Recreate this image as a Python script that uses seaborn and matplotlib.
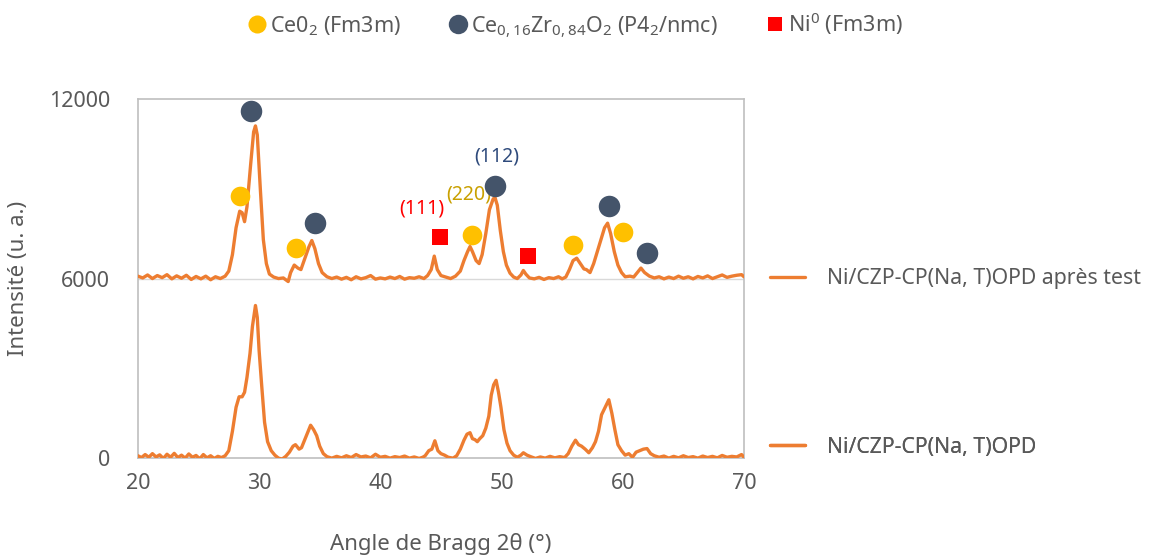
import matplotlib
matplotlib.use("Agg")  # headless mode (no GUI)

import matplotlib.pyplot as plt
import pandas as pd
import seaborn as sns

# --- data (2theta in degrees, intensity in counts) ---
two_theta_after = [
    20.0, 20.4, 20.8, 21.2, 21.6, 22.0, 22.4, 22.8, 23.2, 23.6, 24.0, 24.4, 24.8, 25.2, 25.6, 26.0,
    26.4, 26.8, 27.2, 27.5, 27.8, 28.1, 28.4, 28.6, 28.8, 29.0, 29.3, 29.55, 29.7, 29.85, 30.1,
    30.35, 30.6, 30.85, 31.2, 31.6, 32.0, 32.4, 32.6, 32.9, 33.2, 33.45, 33.8, 34.1, 34.35, 34.6,
    34.9, 35.2, 35.6, 36.0, 36.4, 36.8, 37.2, 37.6, 38.0, 38.4, 38.8, 39.2, 39.6, 40.0, 40.4,
    40.8, 41.2, 41.6, 42.0, 42.4, 42.8, 43.2, 43.6, 43.9, 44.2, 44.45, 44.7, 45.0, 45.4, 45.8,
    46.2, 46.6, 46.9, 47.2, 47.4, 47.6, 47.9, 48.15, 48.4, 48.7, 49.0, 49.3, 49.45, 49.65, 49.9,
    50.15, 50.4, 50.7, 51.0, 51.3, 51.6, 51.8, 52.0, 52.3, 52.7, 53.1, 53.5, 53.9, 54.3, 54.7,
    55.0, 55.3, 55.6, 55.9, 56.2, 56.5, 56.8, 57.0, 57.3, 57.6, 57.9, 58.2, 58.5, 58.75, 59.0,
    59.3, 59.6, 59.9, 60.2, 60.6, 60.9, 61.2, 61.5, 61.8, 62.2, 62.6, 63.0, 63.4, 63.8, 64.2,
    64.6, 65.0, 65.4, 65.8, 66.2, 66.6, 67.0, 67.4, 67.8, 68.2, 68.6, 69.0, 69.4, 69.8, 70.0,
]
intensity_after = [
    6080, 6020, 6120, 6000, 6100, 6030, 6130, 5990, 6090, 6010, 6110, 5970, 6070, 5990, 6080, 5960,
    6060, 6000, 6080, 6250, 6800, 7700, 8250, 8200, 7900, 8400, 9800, 10900, 11100, 10800, 9000,
    7300, 6500, 6150, 6050, 6000, 6020, 5900, 6200, 6450, 6350, 6300, 6700, 7050, 7270, 7000,
    6500, 6200, 6060, 6000, 6050, 5980, 6040, 5960, 6060, 5990, 6030, 6100, 5980, 6020, 5990,
    6050, 6000, 6070, 5980, 6030, 6010, 6060, 6000, 6100, 6300, 6750, 6300, 6100, 6050, 6000,
    6080, 6250, 6600, 6900, 7070, 6900, 6600, 6500, 6800, 7500, 8300, 8650, 8720, 8450, 7600,
    6900, 6450, 6180, 6050, 6000, 6120, 6270, 6150, 6020, 5990, 6040, 5970, 6030, 6000, 6060,
    5990, 6050, 6300, 6600, 6680, 6500, 6320, 6300, 6200, 6500, 6900, 7300, 7700, 7850, 7500,
    6900, 6450, 6200, 6060, 6080, 6050, 6200, 6350, 6200, 6080, 6020, 6060, 5990, 6050, 6000,
    6080, 6010, 6060, 5990, 6070, 6020, 6090, 6000, 6060, 6120, 6040, 6080, 6110, 6130, 6060,
]

two_theta_before = [
    20.0, 20.3, 20.6, 20.9, 21.2, 21.5, 21.8, 22.1, 22.4, 22.7, 23.0, 23.3, 23.6, 23.9, 24.2, 24.5,
    24.8, 25.1, 25.4, 25.7, 26.0, 26.3, 26.6, 26.9, 27.2, 27.5, 27.8, 28.1, 28.35, 28.6, 28.8,
    29.0, 29.25, 29.45, 29.7, 29.85, 30.0, 30.2, 30.45, 30.7, 31.0, 31.3, 31.6, 31.9, 32.2, 32.5,
    32.8, 33.0, 33.3, 33.5, 33.8, 34.0, 34.25, 34.5, 34.75, 35.0, 35.3, 35.6, 36.0, 36.4, 36.8,
    37.2, 37.6, 38.0, 38.4, 38.8, 39.2, 39.6, 40.0, 40.4, 40.8, 41.2, 41.6, 42.0, 42.4, 42.8,
    43.2, 43.5, 43.7, 44.0, 44.25, 44.5, 44.75, 45.0, 45.3, 45.6, 46.0, 46.3, 46.6, 46.9, 47.15,
    47.4, 47.6, 47.8, 48.0, 48.2, 48.45, 48.7, 48.95, 49.15, 49.35, 49.55, 49.75, 49.95, 50.2,
    50.45, 50.7, 51.0, 51.3, 51.6, 51.8, 52.1, 52.4, 52.8, 53.2, 53.6, 54.0, 54.4, 54.8, 55.2,
    55.5, 55.8, 56.1, 56.35, 56.6, 56.9, 57.2, 57.5, 57.75, 58.0, 58.25, 58.55, 58.85, 59.1,
    59.35, 59.6, 59.9, 60.2, 60.5, 60.8, 61.1, 61.4, 61.7, 62.0, 62.3, 62.6, 63.0, 63.4, 63.8,
    64.2, 64.6, 65.0, 65.4, 65.8, 66.2, 66.6, 67.0, 67.4, 67.8, 68.2, 68.6, 69.0, 69.4, 69.8, 70.0,
]
intensity_before = [
    80, 20, 120, 30, 150, 40, 110, -10, 130, 30, 160, 20, 100, 0, 140, 30,
    90, -20, 120, 10, 80, -10, 60, 20, 80, 250, 900, 1700, 2050, 2050, 2200,
    2700, 3500, 4400, 5100, 4700, 3600, 2500, 1200, 550, 250, 100, 0, -30, 60, 200,
    400, 450, 300, 350, 650, 850, 1100, 950, 750, 400, 150, 50, 0, 60, 10,
    80, 20, 120, 40, 70, 10, 130, 30, 60, 0, 50, 20, 70, 0, 40,
    -10, 30, 80, 250, 300, 580, 250, 150, 100, 30, 0, 80, 300, 600, 800,
    850, 650, 620, 550, 650, 750, 1000, 1400, 2100, 2450, 2600, 2200, 1700, 950,
    500, 250, 100, 30, 100, 180, 100, 50, -10, 40, 0, 60, 10, 50, 20,
    150, 400, 600, 450, 400, 300, 180, 350, 550, 900, 1450, 1700, 1950, 1500,
    950, 450, 250, 100, 150, 30, 200, 250, 300, 320, 150, 80, 30, 70, 0,
    60, 10, 80, 20, 50, 0, 70, 20, 60, 10, 90, 30, 60, 40, 120, 30,
]

# phase markers placed above the peaks of the "après test" pattern
ceo2_2theta = [28.4, 33.05, 47.6, 55.9, 60.0]
ceo2_height = [8760, 7010, 7460, 7120, 7570]
czo_2theta = [29.35, 34.6, 49.5, 58.9, 62.0]
czo_height = [11600, 7870, 9100, 8430, 6840]
ni_2theta = [44.95, 52.15]
ni_height = [7400, 6770]

hkl_labels = ["(111)", "(220)", "(112)"]
hkl_2theta = [43.4, 47.3, 49.6]
hkl_height = [8350, 8820, 10080]

x_ticks = [20, 30, 40, 50, 60, 70]
y_ticks = [0, 6000, 12000]

series_labels = ["Ni/CZP-CP(Na, T)OPD après test", "Ni/CZP-CP(Na, T)OPD"]
phase_labels = [
    r"Ce0$\mathregular{_2}$ (Fm3m)",
    r"Ce$\mathregular{_{0,16}}$Zr$\mathregular{_{0,84}}$O$\mathregular{_2}$ (P4$\mathregular{_2}$/nmc)",
    r"Ni$\mathregular{^0}$ (Fm3m)",
]

ORANGE = "#ED7D31"
NAVY = "#44546A"
YELLOW = "#FFC000"
RED = "#FF0000"
GREY_TXT = "#595959"
hkl_colors = [RED, "#C9A000", "#2F4B7C"]

sns.set_theme(style="white")
plt.rcParams["font.family"] = ["Noto Sans", "DejaVu Sans"]
plt.rcParams["mathtext.fontset"] = "custom"
plt.rcParams["mathtext.rm"] = "Noto Sans"
plt.rcParams["text.color"] = GREY_TXT


def main():
    fig = plt.figure(figsize=(11.49, 5.56), dpi=100)
    ax = fig.add_axes([0.120, 0.176, 0.5275, 0.646])

    df_after = pd.DataFrame({"two_theta": two_theta_after, "intensity": intensity_after})
    df_before = pd.DataFrame({"two_theta": two_theta_before, "intensity": intensity_before})

    ax.axhline(6000, color="#D9D9D9", lw=1, zorder=0)
    sns.lineplot(data=df_after, x="two_theta", y="intensity", ax=ax, color=ORANGE,
                 lw=2.4, sort=False, estimator=None, zorder=3)
    sns.lineplot(data=df_before, x="two_theta", y="intensity", ax=ax, color=ORANGE,
                 lw=2.4, sort=False, estimator=None, zorder=3)

    sns.scatterplot(x=ceo2_2theta, y=ceo2_height, ax=ax, color=YELLOW, marker="o",
                    s=200, linewidth=0, zorder=4)
    sns.scatterplot(x=czo_2theta, y=czo_height, ax=ax, color=NAVY, marker="o",
                    s=240, linewidth=0, zorder=4)
    sns.scatterplot(x=ni_2theta, y=ni_height, ax=ax, color=RED, marker="s",
                    s=120, linewidth=0, zorder=4)

    for lab, x, y, c in zip(hkl_labels, hkl_2theta, hkl_height, hkl_colors):
        ax.text(x, y, lab, color=c, fontsize=14, ha="center", va="center")

    ax.set_xlim(20, 70)
    ax.set_ylim(0, 12000)
    ax.set_xticks(x_ticks)
    ax.set_yticks(y_ticks)
    ax.tick_params(axis="both", labelsize=15.5, colors=GREY_TXT, length=0)
    ax.tick_params(axis="y", pad=20)
    ax.tick_params(axis="x", pad=11)
    for sp in ax.spines.values():
        sp.set_color("#BFBFBF")
        sp.set_linewidth(1.2)
    ax.set_xlabel("Angle de Bragg 2θ (°)", fontsize=16, color=GREY_TXT, labelpad=28)
    ax.set_ylabel("Intensité (u. a.)", fontsize=16, color=GREY_TXT, labelpad=14)

    # right-hand series legends, one next to each pattern
    line_kw = dict(color=ORANGE, lw=2.4)
    for lab, ypos in zip(series_labels, [0.5, 0.03]):
        leg = ax.legend([plt.Line2D([], [], **line_kw)], [lab], loc="center left",
                        bbox_to_anchor=(1.043, ypos), frameon=False, fontsize=15.3,
                        handlelength=1.65, handletextpad=1.05, borderpad=0, borderaxespad=0)
        ax.add_artist(leg)

    # top legend for the crystalline phases
    handles = [
        plt.Line2D([], [], ls="", marker="o", ms=13, color=YELLOW, mew=0),
        plt.Line2D([], [], ls="", marker="o", ms=14, color=NAVY, mew=0),
        plt.Line2D([], [], ls="", marker="s", ms=10, color=RED, mew=0),
    ]
    fig.legend(handles, phase_labels, loc="center", bbox_to_anchor=(0.5, 0.955), ncol=3,
               frameon=False, fontsize=15.5, handletextpad=0.1, columnspacing=2.15,
               handlelength=1.0)

    fig.savefig("out.png", dpi=100)


if __name__ == "__main__":
    main()
